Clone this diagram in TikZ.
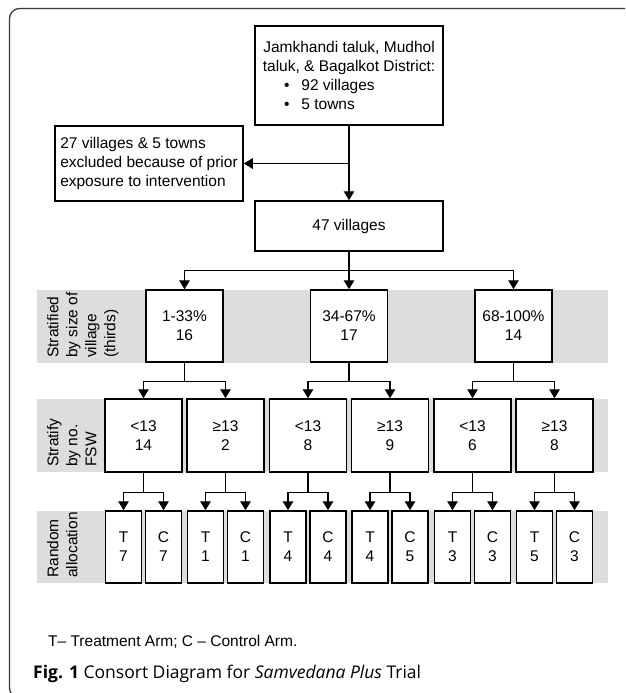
\documentclass[tikz,border=0pt]{standalone}
\usepackage{fontspec}
\setmainfont{Liberation Sans}
\newfontfamily\capfont{Open Sans}
\usetikzlibrary{arrows.meta,positioning}
\definecolor{bandgray}{HTML}{DCDDDF}
\definecolor{framegray}{HTML}{3A3A3A}

\begin{document}
\begin{tikzpicture}[x=1pt, y=-1pt,
    every node/.style={font=\fontsize{15.5}{19}\selectfont},
    box/.style={draw, line width=1.5pt, fill=white, inner sep=0pt, align=center},
    sizebox/.style={box, minimum width=77pt, minimum height=72pt},
    fswbox/.style={box, minimum width=77pt, minimum height=73pt},
    armbox/.style={box, minimum width=36pt, minimum height=72pt},
    band/.style={fill=bandgray},
    bandlabel/.style={rotate=90, anchor=north west, align=left, inner sep=0pt},
    conn/.style={line width=1.2pt},
    arr/.style={conn, -{Triangle[width=10.5pt,length=9pt]}}]
        \useasboundingbox (0,0) rectangle (625,693);
        \clip (0,0) rectangle (625,693);
        \draw[framegray, line width=1.3pt, rounded corners=10pt] (9.5,8.5) rectangle (700,698);
        \fill[band] (37,290) rectangle (608,363);
        \fill[band] (37,399) rectangle (608,472);
        \fill[band] (37,511) rectangle (608,583);
        \node[bandlabel] (lsize) at (47,358) {Stratified\\by size of\\village\\(thirds)};
        \node[bandlabel] (lfsw) at (47,467) {Stratify\\by no.\\FSW};
        \node[bandlabel] (larm) at (47,578) {Random\\allocation};
        \node[box, minimum width=188pt, minimum height=99pt] (src) at (349,75.5)
          {Jamkhandi taluk, Mudhol\\taluk, \& Bagalkot District:\\
           \makebox[130pt][l]{\textbullet\hspace{12pt}92 villages}\\
           \makebox[130pt][l]{\textbullet\hspace{12pt}5 towns}};
        \node[box, minimum width=188pt, minimum height=75pt, align=left] (excl) at (149,163.5)
          {27 villages \& 5 towns\\excluded because of prior\\exposure to intervention};
        \node[box, minimum width=188pt, minimum height=50pt] (vil) at (349,226) {47 villages};
        \node[sizebox] (s1) at (184.5,326) {1-33\%\\16};
        \node[sizebox] (s2) at (349,326) {34-67\%\\17};
        \node[sizebox] (s3) at (513.5,326) {68-100\%\\14};
        \node[fswbox] (f1) at (143.5,435.5) {<13\\14};
        \node[fswbox] (f2) at (225.5,435.5) {≥13\\2};
        \node[fswbox] (f3) at (308,435.5) {<13\\8};
        \node[fswbox] (f4) at (390,435.5) {≥13\\9};
        \node[fswbox] (f5) at (472.5,435.5) {<13\\6};
        \node[fswbox] (f6) at (554.5,435.5) {≥13\\8};
        \node[armbox] (a1) at (123.5,547) {T\\7};
        \node[armbox] (a2) at (163.5,547) {C\\7};
        \node[armbox] (a3) at (205.5,547) {T\\1};
        \node[armbox] (a4) at (245.5,547) {C\\1};
        \node[armbox] (a5) at (288,547) {T\\4};
        \node[armbox] (a6) at (328,547) {C\\4};
        \node[armbox] (a7) at (370,547) {T\\4};
        \node[armbox] (a8) at (410,547) {C\\5};
        \node[armbox] (a9) at (452.5,547) {T\\3};
        \node[armbox] (a10) at (492.5,547) {C\\3};
        \node[armbox] (a11) at (534.5,547) {T\\5};
        \node[armbox] (a12) at (574.5,547) {C\\3};
        \draw[arr] (src) -- (vil);
        \draw[arr] (src.south |- excl.east) -- (excl);
        \draw[conn] (vil.south) -- ++(0,19) coordinate (j0);
        \draw[arr] (j0) -| (s1);
        \draw[arr] (j0) -- (s2);
        \draw[arr] (j0) -| (s3);
        \draw[conn] (s1.south) -- ++(0,19) coordinate (j1);
        \draw[conn] (s2.south) -- ++(0,19) coordinate (j2);
        \draw[conn] (s3.south) -- ++(0,19) coordinate (j3);
        \draw[arr] (j1) -| (f1);
        \draw[arr] (j1) -| (f2);
        \draw[arr] (j2) -| (f3);
        \draw[arr] (j2) -| (f4);
        \draw[arr] (j3) -| (f5);
        \draw[arr] (j3) -| (f6);
        \draw[conn] (f1.south) -- ++(0,20) coordinate (k1);
        \draw[conn] (f2.south) -- ++(0,20) coordinate (k2);
        \draw[conn] (f3.south) -- ++(0,20) coordinate (k3);
        \draw[conn] (f4.south) -- ++(0,20) coordinate (k4);
        \draw[conn] (f5.south) -- ++(0,20) coordinate (k5);
        \draw[conn] (f6.south) -- ++(0,20) coordinate (k6);
        \draw[arr] (k1) -| (a1);
        \draw[arr] (k1) -| (a2);
        \draw[arr] (k2) -| (a3);
        \draw[arr] (k2) -| (a4);
        \draw[arr] (k3) -| (a5);
        \draw[arr] (k3) -| (a6);
        \draw[arr] (k4) -| (a7);
        \draw[arr] (k4) -| (a8);
        \draw[arr] (k5) -| (a9);
        \draw[arr] (k5) -| (a10);
        \draw[arr] (k6) -| (a11);
        \draw[arr] (k6) -| (a12);
        \node[anchor=west, inner sep=0pt] (legend) at (48,642) {T– Treatment Arm; C – Control Arm.};
        \node[anchor=west, inner sep=0pt, font=\capfont\fontsize{17.5}{21}\selectfont] (caption) at (33,674)
          {\textbf{Fig. 1} Consort Diagram for \textit{Samvedana Plus} Trial};
      \end{tikzpicture}
\end{document}
